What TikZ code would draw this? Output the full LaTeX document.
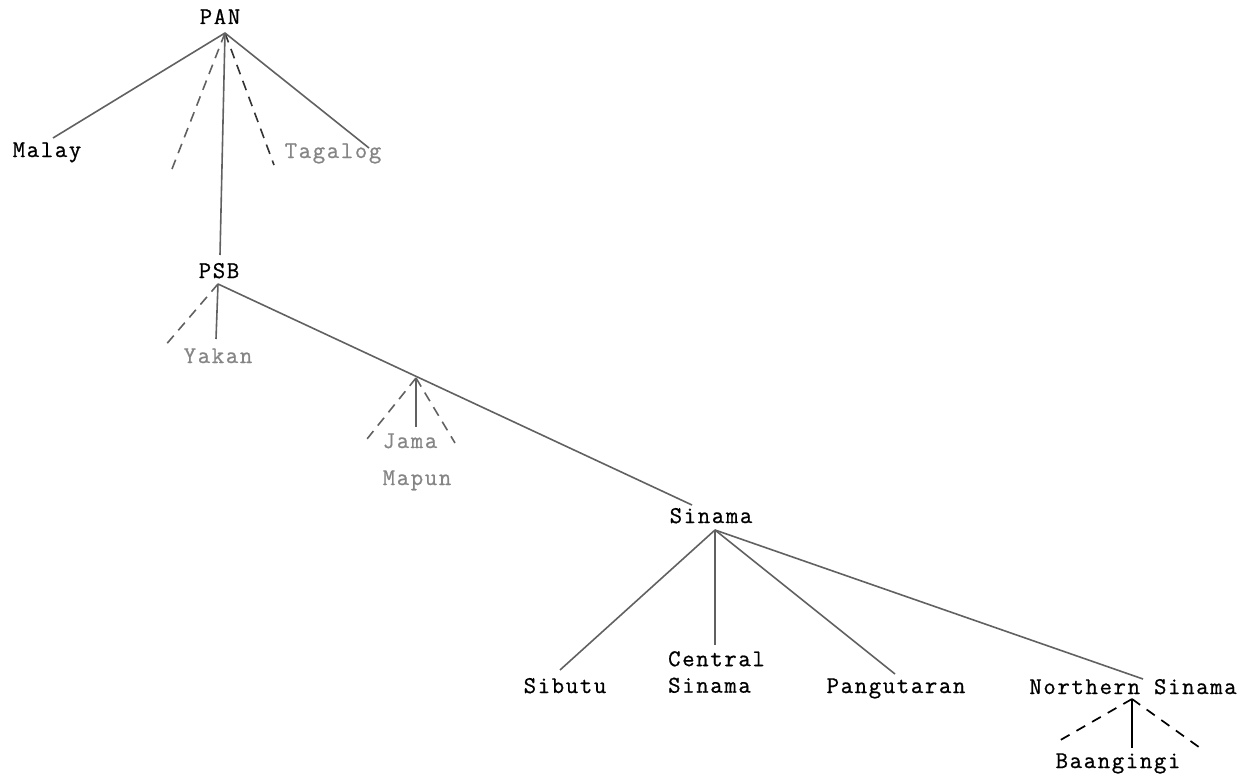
\documentclass[tikz,border=0pt]{standalone}
\usepackage{fontspec}
\setmonofont{Latin Modern Mono}[LetterSpace=7, FakeBold=0.8]
\begin{document}
\begin{tikzpicture}[x=1pt,y=-1pt,
  every node/.style={inner sep=0pt,
    font=\fontsize{24}{26.5}\selectfont\ttfamily},
  lbl/.style={anchor=base, text=black},
  faint/.style={anchor=base, text=black!48},
  branch/.style={draw=black!62, line width=1.6pt},
  gap/.style={branch, dash pattern=on 10pt off 7pt},
  inkbranch/.style={draw=black, line width=1.7pt},
  inkgap/.style={inkbranch, dash pattern=on 10pt off 8pt}]
\useasboundingbox (0,0) rectangle (1251,776);

% labels
\node[lbl]   (pan)   at (220,24)  {PAN};
\node[lbl]   (malay) at (47,157)  {Malay};
\node[faint] (tag)   at (333,158) {Tagalog};
\node[lbl]   (psb)   at (219,278) {PSB};
\node[faint] (yakan) at (218,363) {Yakan};
\node[faint] (jama)  at (410,448) {Jama};
\node[faint] (mapun) at (417,485) {Mapun};
\node[lbl]   (sin)   at (711,523) {Sinama};
\node[lbl]   (sib)   at (565,693) {Sibutu};
\node[anchor=north west, align=left] (cen) at (668,651) {Central\\Sinama};
\node[lbl]   (pang)  at (896,693) {Pangutaran};
\node[lbl]   (nsin)  at (1133,694) {Northern Sinama};
\node[lbl]   (baa)   at (1118,768) {Baangingi};

% branching points and free ends
\coordinate (panT)  at (225,33);
\coordinate (malE)  at (53,138);
\coordinate (pd1)   at (172,169);
\coordinate (pd2)   at (274,165);
\coordinate (tagE)  at (369,148);
\coordinate (psbE)  at (220,255);
\coordinate (psbT)  at (218,284);
\coordinate (yd1)   at (164,347);
\coordinate (yakE)  at (216,339);
\coordinate (sinE)  at (692,505);
\coordinate (jamT)  at (416,378);
\coordinate (jamE)  at (416,427);
\coordinate (jd1)   at (363,444);
\coordinate (jd2)   at (455,443);
\coordinate (sinT)  at (715,530);
\coordinate (sibE)  at (560,670);
\coordinate (cenE)  at (715,645);
\coordinate (pangE) at (895,674);
\coordinate (nsE)   at (1143,679);
\coordinate (nsT)   at (1132,699);
\coordinate (bd1)   at (1057,742);
\coordinate (baaE)  at (1132,748);
\coordinate (bd2)   at (1203,750);

% PAN
\draw[branch] (panT) -- (malE);
\draw[gap] (panT) -- (pd1);
\draw[gap, draw=black!80] (panT) -- (pd2);
\draw[branch] (panT) -- (tagE);
\draw[branch] (panT) -- (psbE);

% PSB
\draw[gap] (psbT) -- (yd1);
\draw[branch] (psbT) -- (yakE);
\draw[branch] (psbT) -- (sinE);

% Jama Mapun
\draw[branch] (jamT) -- (jamE);
\draw[gap] (jamT) -- (jd1);
\draw[gap] (jamT) -- (jd2);

% Sinama
\draw[branch] (sinT) -- (sibE);
\draw[branch] (sinT) -- (cenE);
\draw[branch] (sinT) -- (pangE);
\draw[branch] (sinT) -- (nsE);

% Northern Sinama
\draw[inkgap] (nsT) -- (bd1);
\draw[inkbranch] (nsT) -- (baaE);
\draw[inkgap] (nsT) -- (bd2);
\end{tikzpicture}
\end{document}
